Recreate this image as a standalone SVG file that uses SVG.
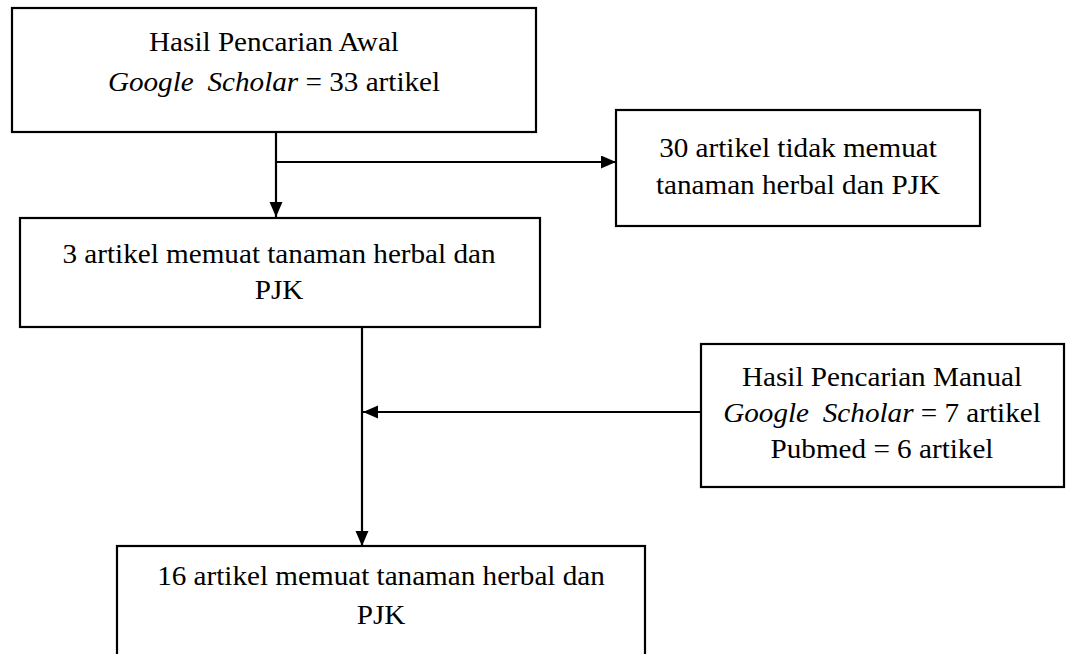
<svg xmlns="http://www.w3.org/2000/svg" width="1067" height="654" viewBox="0 0 1067 654">
<style>
.box{fill:#fff;stroke:#000;stroke-width:2.2}
.t{font-family:"Liberation Serif","Times New Roman",serif;font-size:27px;fill:#000;text-anchor:middle}
.i{font-style:italic}
.c{fill:none;stroke:#000;stroke-width:2.2}
</style>
<defs>
<marker id="ah" markerUnits="userSpaceOnUse" markerWidth="16" markerHeight="14" refX="15" refY="6.5" orient="auto">
<path d="M0,0 L15,6.5 L0,13 z" fill="#000"/>
</marker>
</defs>
<rect width="1067" height="654" fill="#fff"/>
<g id="connectors">
<line class="c" x1="276" y1="132" x2="276" y2="217" marker-end="url(#ah)"/>
<line class="c" x1="276" y1="162" x2="616" y2="162" marker-end="url(#ah)"/>
<line class="c" x1="362" y1="328" x2="362" y2="546" marker-end="url(#ah)"/>
<line class="c" x1="701" y1="412" x2="363" y2="412" marker-end="url(#ah)"/>
</g>
<g id="awal">
<rect class="box" x="12" y="8" width="524" height="124"/>
<text class="t" transform="translate(274 51) scale(1.08 1)">Hasil Pencarian Awal</text>
<text class="t" transform="translate(274 91) scale(1.08 1)"><tspan class="i">Google</tspan><tspan class="i" dx="6"> Scholar</tspan> = 33 artikel</text>
</g>
<g id="tidak">
<rect class="box" x="616" y="110" width="364" height="116"/>
<text class="t" transform="translate(798 157) scale(1.08 1)">30 artikel tidak memuat</text>
<text class="t" transform="translate(798 194) scale(1.08 1)">tanaman herbal dan PJK</text>
</g>
<g id="memuat3">
<rect class="box" x="20" y="218" width="520" height="109"/>
<text class="t" transform="translate(279 263) scale(1.08 1)">3 artikel memuat tanaman herbal dan</text>
<text class="t" transform="translate(279 299) scale(1.08 1)">PJK</text>
</g>
<g id="manual">
<rect class="box" x="701" y="344" width="363" height="143"/>
<text class="t" transform="translate(882 386) scale(1.08 1)">Hasil Pencarian Manual</text>
<text class="t" transform="translate(882 422) scale(1.08 1)"><tspan class="i">Google</tspan><tspan class="i" dx="6"> Scholar</tspan> = 7 artikel</text>
<text class="t" transform="translate(882 458) scale(1.08 1)">Pubmed = 6 artikel</text>
</g>
<g id="memuat16">
<rect class="box" x="117" y="546" width="528" height="112"/>
<text class="t" transform="translate(381 585) scale(1.08 1)">16 artikel memuat tanaman herbal dan</text>
<text class="t" transform="translate(381 624) scale(1.08 1)">PJK</text>
</g>
</svg>
